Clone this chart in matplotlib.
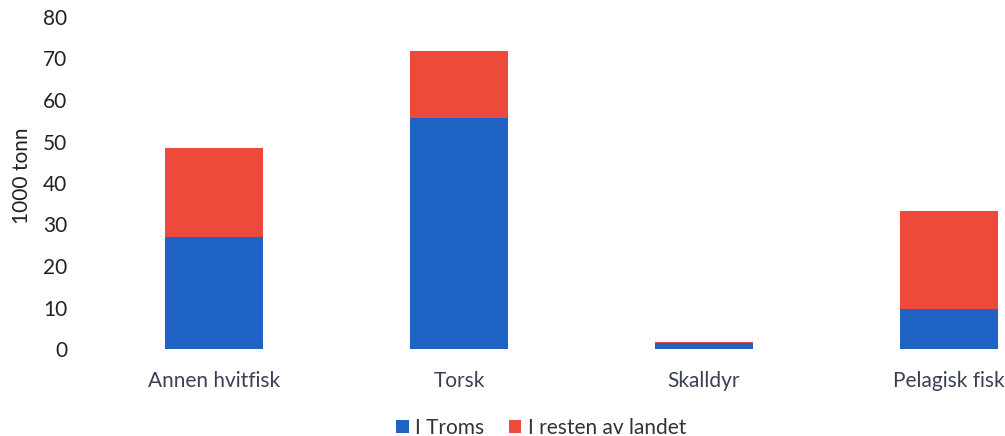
import matplotlib
matplotlib.use("Agg")
import matplotlib.pyplot as plt
import numpy as np

plt.rcParams['font.family'] = ['Lato', 'DejaVu Sans']

categories = ["Annen hvitfisk", "Torsk", "Skalldyr", "Pelagisk fisk"]
troms = [27.0, 55.7, 1.4, 9.6]
resten = [21.4, 16.1, 0.4, 23.7]
yticks = [0, 10, 20, 30, 40, 50, 60, 70, 80]

blue = "#1f64c4"
red = "#ee4a3b"

W, H = 1005, 436
fig = plt.figure(figsize=(W / 100, H / 100), dpi=100)
# axes: x from 91px to right edge (chart is cropped on the right), y 0 at 349px, 80 at 17px
ax = fig.add_axes([91 / W, (H - 349) / H, (W - 91) / W, (349 - 17) / H])

x = np.arange(len(categories))
ax.bar(x, troms, width=0.4, color=blue, label="I Troms")
ax.bar(x, resten, width=0.4, bottom=troms, color=red, label="I resten av landet")

ax.set_xlim(-0.502, 3.229)
ax.set_ylim(0, 80)
ax.set_yticks(yticks)
ax.set_xticks(x)
ax.set_xticklabels(categories, color="#3b4052")
ax.tick_params(axis="y", length=0, pad=17, labelsize=15, labelcolor="#222222")
ax.tick_params(axis="x", length=0, pad=16, labelsize=15)
for s in ax.spines.values():
    s.set_visible(False)

fig.text(22 / W, 1 - 176 / H, "1000 tonn", rotation=90, ha="center", va="center",
         fontsize=15, color="#222222")

h, l = ax.get_legend_handles_labels()
fig.legend(h, l, loc="center", bbox_to_anchor=(541 / W, 1 - 428 / H), ncol=2, frameon=False,
           fontsize=15, handlelength=0.6, handleheight=0.6, handletextpad=0.3,
           columnspacing=1.2, labelcolor="#333333")

fig.savefig("out.png", dpi=100)
